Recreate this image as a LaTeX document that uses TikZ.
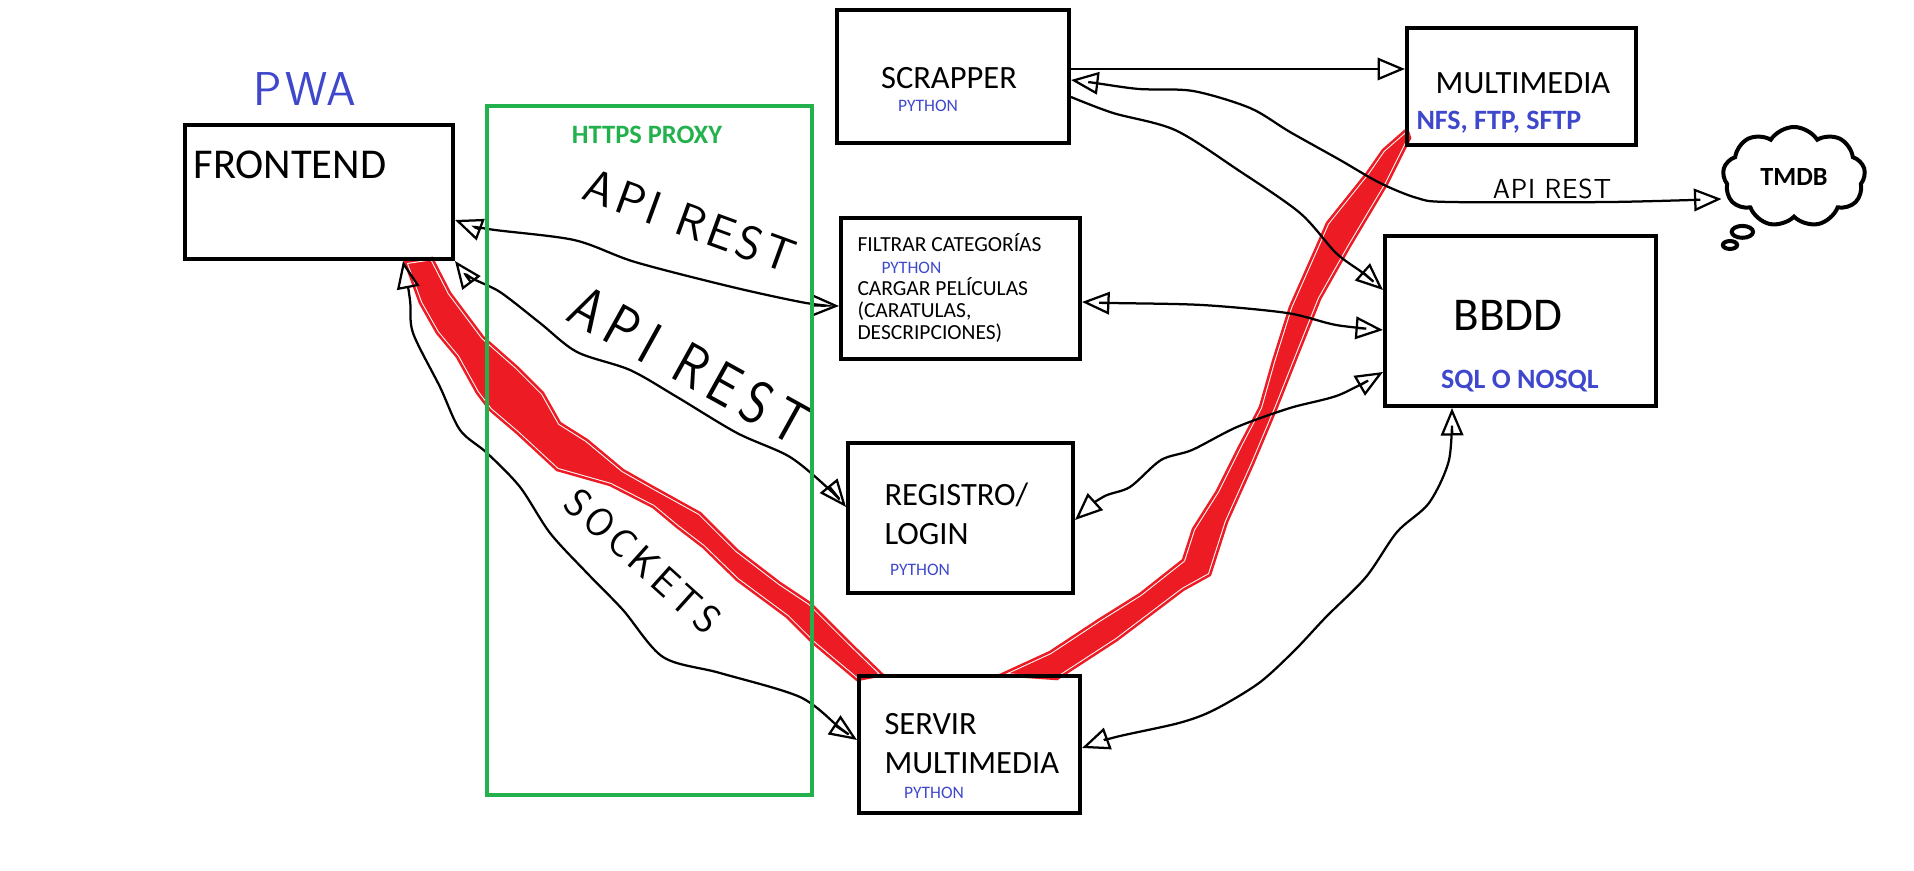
\documentclass[tikz,border=0pt]{standalone}
\usepackage{fontspec}
\setmainfont{Carlito}
\newfontfamily\handfont{lmsans17-regular.otf}
\usetikzlibrary{positioning, arrows.meta, fit, shapes.symbols, shapes.callouts}
\definecolor{pyblue}{HTML}{3F48CC}
\definecolor{proxygreen}{HTML}{22B14C}
\definecolor{bandred}{HTML}{ED1C24}

\begin{document}
\begin{tikzpicture}[
  x=0.4pt, y=-0.4pt,
  >={Triangle[open, length=11pt, width=9pt]},
  box/.style={draw, line width=1.6pt, inner sep=0pt},
  link/.style={line width=0.9pt},
  band/.style={fill=bandred, draw=white, line width=1.8pt, postaction={draw=bandred, line width=1pt}},
  title/.style={font=\fontsize{13}{15.6}\selectfont, align=left, inner sep=0pt},
  py/.style={text=pyblue, font=\fontsize{7}{8.4}\selectfont, inner sep=0pt},
  note/.style={text=pyblue, font=\bfseries\fontsize{11.2}{13.4}\selectfont, inner sep=0pt},
  hand/.style={inner sep=0pt}
]
  \useasboundingbox (0,0) rectangle (1914,871);

  % Red bands (drawn first, under everything)
  \path[band] (405,262) -- (420,303) -- (437,333) -- (457,357) -- (477,393) -- (490,410)
    -- (517,433) -- (557,470) -- (610,485) -- (653,507) -- (677,527) -- (703,547)
    -- (737,580) -- (787,617) -- (813,643) -- (857,680) -- (883,675) -- (850,643)
    -- (810,603) -- (780,583) -- (737,550) -- (700,513) -- (653,487) -- (623,470)
    -- (587,440) -- (560,423) -- (543,393) -- (517,367) -- (483,337) -- (450,293)
    -- (432,258) -- cycle;
  \path[band] (1000,675) -- (1050,652) -- (1100,619) -- (1140,594) -- (1183,560)
    -- (1193,529) -- (1217,491) -- (1240,445) -- (1260,407) -- (1273,361) -- (1290,307)
    -- (1317,246) -- (1327,223) -- (1367,173) -- (1383,150) -- (1407,129) -- (1410,138)
    -- (1387,184) -- (1350,246) -- (1320,299) -- (1300,349) -- (1277,407) -- (1253,464)
    -- (1227,522) -- (1210,575) -- (1183,590) -- (1117,640) -- (1057,679) -- cycle;

  % Boxes
  \node[box, fit={(185,125) (453,259)}] (front) {};
  \node[box, fit={(837,10) (1069,143)}] (scrap) {};
  \node[box, fit={(1407,28) (1636,145)}] (multi) {};
  \node[box, fit={(841,218) (1080,359)}] (filt) {};
  \node[box, fit={(1385,236) (1656,406)}] (bbdd) {};
  \node[box, fit={(848,443) (1073,593)}] (reg) {};
  \node[box, fit={(859,676) (1080,813)}] (serv) {};
  \node[cloud callout, draw, line width=1.6pt, cloud puffs=9, cloud puff arc=115,
    aspect=1.5, minimum width=57pt, minimum height=40pt, inner sep=0pt,
    callout absolute pointer={(1730,245)},
    font=\bfseries\fontsize{10.5}{12.6}\selectfont] (tmdb) at (1794,177) {TMDB};

  % Box texts
  \node[hand, text=pyblue, font=\handfont\fontsize{19}{23}\selectfont\addfontfeature{LetterSpace=6}] (pwa) at (305,89) {PWA};
  \node[title, font=\fontsize{17}{20.4}\selectfont, anchor=west] (fronttxt) at (193,165) {FRONTEND};
  \node[title] (scraptxt) at (949,78) {SCRAPPER};
  \node[py] (scrappy) at (928,106) {PYTHON};
  \node[title] (multitxt) at (1523,83) {MULTIMEDIA};
  \node[note, anchor=west] (multinote) at (1416,122) {NFS, FTP, SFTP};
  \node[title, font=\fontsize{8.6}{8.8}\selectfont, anchor=west] (filttxt) at (857,288) {%
    FILTRAR CATEGORÍAS\\
    \hspace*{9.6pt}{\color{pyblue}\fontsize{7}{8.8}\selectfont PYTHON}\\
    CARGAR PELÍCULAS\\
    (CARATULAS,\\
    DESCRIPCIONES)};
  \node[title, font=\fontsize{18.8}{22.6}\selectfont] (bbddtxt) at (1508,315) {BBDD};
  \node[note] (bbddnote) at (1520,381) {SQL O NOSQL};
  \node[title, anchor=west] (regtxt) at (884,514) {REGISTRO/\\LOGIN};
  \node[py] (regpy) at (920,570) {PYTHON};
  \node[title, anchor=west] (servtxt) at (884,744) {SERVIR\\MULTIMEDIA};
  \node[py] (servpy) at (934,793) {PYTHON};

  % Hand-written link labels
  \node[hand, rotate=-20, font=\handfont\fontsize{19}{23}\selectfont\addfontfeature{LetterSpace=9}] (rest1) at (690,221) {API REST};
  \node[hand, rotate=-29, font=\handfont\fontsize{24}{29}\selectfont\addfontfeature{FakeStretch=0.85, LetterSpace=15}] (rest2) at (690,365) {API REST};
  \node[hand, rotate=-42, font=\handfont\fontsize{16}{19}\selectfont\addfontfeature{LetterSpace=11}] (sock) at (643,561) {SOCKETS};
  \node[hand, font=\handfont\fontsize{11}{13}\selectfont\addfontfeature{LetterSpace=3}] (rest3) at (1552,189) {API REST};

  % Links
  \draw[link, <->] plot[smooth] coordinates {(front.east |- 0,220) (488,229) (574,240) (635,262)
    (732,287) (806,303) (filt.west |- 0,306)};
  \draw[link, <->] plot[smooth] coordinates {(front.south east) (470,277) (500,292) (540,323)
    (577,352) (630,370) (677,397) (737,433) (790,457) (830,490) (reg.west |- 0,507)};
  \draw[link, <->] plot[smooth] coordinates {(front.south -| 403,0) (410,300) (413,333) (440,387)
    (460,430) (487,453) (520,487) (550,533) (587,573) (623,610) (663,657) (720,673)
    (800,697) (840,728) (serv.west |- 0,740)};
  \draw[link, ->] (scrap.east |- 0,69) -- (multi.west |- 0,69);
  \draw[link, <->] plot[smooth] coordinates {(scrap.east |- 0,80) (1095,83) (1139,89) (1193,91)
    (1250,108) (1290,132) (1340,160) (1380,183) (1417,198) (1450,202) (1610,202)
    (tmdb.west |- 0,199)};
  \draw[link, ->] plot[smooth] coordinates {(scrap.east |- 0,97) (1113,113) (1175,130)
    (1238,170) (1300,213) (1336,253) (1363,273) (bbdd.west |- 0,290)};
  \draw[link, <->] plot[smooth] coordinates {(filt.east |- 0,302) (1112,303) (1202,305)
    (1287,313) (1336,325) (bbdd.west |- 0,330)};
  \draw[link, <->] plot[smooth] coordinates {(reg.east |- 0,520) (1103,497) (1130,487)
    (1161,460) (1192,450) (1237,427) (1290,408) (1339,395) (bbdd.west |- 0,372)};
  \draw[link, <->] plot[smooth] coordinates {(serv.east |- 0,748) (1116,737) (1179,723)
    (1214,710) (1259,683) (1295,650) (1326,617) (1366,577) (1397,532) (1429,503)
    (1449,460) (bbdd.south -| 1452,0)};

  % HTTPS proxy frame (on top of the links)
  \node[draw=proxygreen, line width=1.6pt, inner sep=0pt, fit={(487,106) (812,795)}] (proxy) {};
  \node[text=proxygreen, font=\bfseries\fontsize{10.6}{12.7}\selectfont] (proxytxt) at (647,135) {HTTPS PROXY};
\end{tikzpicture}
\end{document}
